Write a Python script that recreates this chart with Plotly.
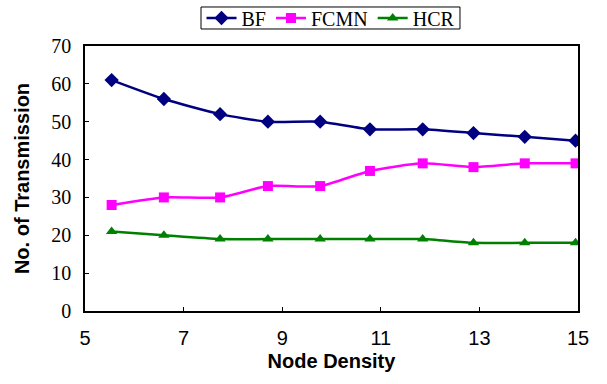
import plotly.graph_objects as go

node_density = [5.54, 6.60, 7.74, 8.71, 9.77, 10.78, 11.85, 12.88, 13.92, 14.95]
bf = [61, 56, 52, 50, 50, 48, 48, 47, 46, 45]
fcmn = [28, 30, 30, 33, 33, 37, 39, 38, 39, 39]
hcr = [21, 20, 19, 19, 19, 19, 19, 18, 18, 18]

series = [
    ("BF", bf, "#000080", "diamond", 11),
    ("FCMN", fcmn, "#FF00FF", "square", 10),
    ("HCR", hcr, "#008000", "triangle-up", 10),
]

fig = go.Figure()
for name, vals, color, sym, size in series:
    fig.add_trace(go.Scatter(
        x=node_density, y=vals, name=name, mode="lines+markers",
        line=dict(color=color, width=2.5, shape="spline", smoothing=0.6),
        marker=dict(symbol=sym, size=size, color=color),
    ))

# legend frame (decorative box around the legend)
fig.add_shape(type="rect", xref="paper", yref="paper",
              x0=0.2353, x1=0.7606, y0=1.0642, y1=1.1472,
              line=dict(color="black", width=1), fillcolor="rgba(0,0,0,0)",
              layer="above")

fig.update_layout(
    width=607, height=384,
    margin=dict(l=85, r=29, t=46, b=73, autoexpand=False),
    plot_bgcolor="white", paper_bgcolor="white",
    showlegend=True,
    legend=dict(
        orientation="h", x=0.498, xanchor="center", y=1.1057, yanchor="middle",
        borderwidth=0, bgcolor="rgba(0,0,0,0)",
        font=dict(family="Liberation Serif", size=20, color="black"),
        itemwidth=30, tracegroupgap=0,
    ),
    xaxis=dict(
        range=[5, 15], tickvals=[5, 7, 9, 11, 13, 15],
        ticks="inside", ticklen=4, tickcolor="black",
        showline=True, linecolor="black", linewidth=1.5, mirror=True,
        showgrid=False, zeroline=False, ticklabelstandoff=8, automargin=True,
        tickfont=dict(family="Liberation Sans", size=20, color="black"),
        title=dict(text="<b>Node Density</b>", standoff=6,
                   font=dict(family="Liberation Sans", size=20, color="black")),
    ),
    yaxis=dict(
        range=[0, 70], dtick=10,
        ticks="inside", ticklen=4, tickcolor="black",
        showline=True, linecolor="black", linewidth=1.5, mirror=True,
        showgrid=False, zeroline=False, ticklabelstandoff=8, automargin=True,
        tickfont=dict(family="Liberation Serif", size=20, color="black"),
        title=dict(text="<b>No. of Transmission</b>", standoff=16,
                   font=dict(family="Liberation Sans", size=20, color="black")),
    ),
)

fig.write_html("out.html")
